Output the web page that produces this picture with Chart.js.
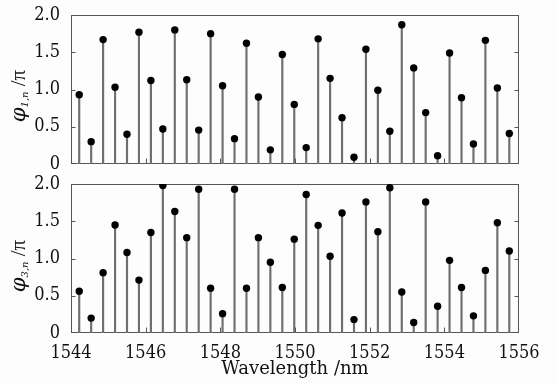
<!DOCTYPE html>
<html>
<head>
<meta charset="utf-8">
<script src="https://cdn.jsdelivr.net/npm/chart.js@4/dist/chart.umd.min.js"></script>
<style>
  html, body { margin: 0; padding: 0; background: #fdfdfd; }
  #wrap { position: relative; width: 557px; height: 383px; }
  #wrap canvas { position: absolute; left: 0; top: 0; }
</style>
</head>
<body>
<div id="wrap">
  <canvas id="phase-1" width="557" height="383"></canvas>
  <canvas id="phase-3" width="557" height="383"></canvas>
</div>
<script>
// Channel wavelengths (nm)
const wavelengths = [
  1544.22, 1544.54, 1544.86, 1545.18, 1545.50, 1545.82, 1546.14, 1546.46,
  1546.78, 1547.10, 1547.42, 1547.74, 1548.06, 1548.38, 1548.70, 1549.02,
  1549.34, 1549.66, 1549.98, 1550.30, 1550.62, 1550.94, 1551.26, 1551.58,
  1551.90, 1552.22, 1552.54, 1552.86, 1553.18, 1553.50, 1553.82, 1554.14,
  1554.46, 1554.78, 1555.10, 1555.42, 1555.74,
];
// phi_1,n / pi
const phi1 = [
  0.93, 0.30, 1.67, 1.03, 0.40, 1.77, 1.12, 0.47, 1.80, 1.13,
  0.455, 1.75, 1.05, 0.34, 1.62, 0.90, 0.19, 1.47, 0.80, 0.22,
  1.68, 1.15, 0.62, 0.09, 1.54, 0.99, 0.44, 1.87, 1.29, 0.69,
  0.11, 1.49, 0.89, 0.27, 1.66, 1.02, 0.41,
];
// phi_3,n / pi
const phi3 = [
  0.56, 0.20, 0.81, 1.45, 1.08, 0.71, 1.35, 1.98, 1.63, 1.28,
  1.93, 0.60, 0.26, 1.93, 0.60, 1.28, 0.95, 0.61, 1.26, 1.86,
  1.445, 1.03, 1.61, 0.18, 1.76, 1.36, 1.95, 0.55, 0.14, 1.76,
  0.36, 0.975, 0.61, 0.23, 0.84, 1.48, 1.10,
];
const xTicks = [1544, 1546, 1548, 1550, 1552, 1554, 1556];
const yTicks = [0, 0.5, 1.0, 1.5, 2.0];

Chart.defaults.font.family = '"DejaVu Serif Condensed", "DejaVu Serif"';
Chart.defaults.font.size = 18;
Chart.defaults.color = '#111';

// Box round the plot area plus short inward ticks
const framePlugin = {
  id: 'frame',
  beforeDatasetsDraw(c) {
    const { ctx, chartArea: a, scales } = c;
    const L = Math.round(a.left) + 0.5;
    const R = Math.round(a.right) - 0.5;
    const T = Math.round(a.top) + 0.5;
    const B = Math.round(a.bottom) - 0.5;
    ctx.save();
    ctx.strokeStyle = '#555';
    ctx.lineWidth = 1;
    ctx.strokeRect(L, T, R - L, B - T);
    ctx.beginPath();
    yTicks.slice(1, -1).forEach((v) => {
      const y = Math.round(scales.y.getPixelForValue(v)) + 0.5;
      ctx.moveTo(L, y); ctx.lineTo(L + 4, y);
      ctx.moveTo(R, y); ctx.lineTo(R - 4, y);
    });
    xTicks.slice(1, -1).forEach((v) => {
      const x = Math.round(scales.x.getPixelForValue(v)) + 0.5;
      ctx.moveTo(x, B); ctx.lineTo(x, B - 5);
    });
    ctx.stroke();
    ctx.restore();
  },
};

// Rotated y title with a subscript: phi_{k,n} /pi
const yTitlePlugin = {
  id: 'yTitle',
  afterDraw(c, args, opts) {
    const { ctx } = c;
    const main = 'italic 21px "DejaVu Serif"';
    const sub = 'italic 10px "DejaVu Serif"';
    const tail = '21px "Liberation Serif"';
    ctx.save();
    ctx.font = main; const w1 = ctx.measureText('\u03C6').width;
    ctx.font = sub; const w2 = ctx.measureText(opts.sub).width;
    ctx.font = tail; const w3 = ctx.measureText(' /\u03C0').width;
    ctx.translate(opts.x, opts.y);
    ctx.rotate(-Math.PI / 2);
    ctx.fillStyle = '#111';
    ctx.textBaseline = 'alphabetic';
    let u = -(w1 + w2 + w3) / 2;
    ctx.font = main; ctx.fillText('\u03C6', u, 0); u += w1;
    ctx.font = sub; ctx.fillText(opts.sub, u, 3); u += w2;
    ctx.font = tail; ctx.fillText(' /\u03C0', u, 0);
    ctx.restore();
  },
};

const makePanel = (id, values, cfg) => {
  const ctx = document.getElementById(id);
  const pts = wavelengths.map((w, i) => ({ x: w, y: values[i] }));
  return new Chart(ctx, {
    type: 'bar',
    data: {
      datasets: [
        // Dots on top of the stems
        {
          type: 'scatter',
          data: pts,
          order: 0,
          pointRadius: 3.7,
          pointHoverRadius: 3.7,
          pointBackgroundColor: '#000',
          pointBorderWidth: 0,
          showLine: false,
        },
        // Stems
        {
          type: 'bar',
          data: pts,
          order: 1,
          barThickness: 1.5,
          backgroundColor: '#6f6f6f',
          borderWidth: 0,
        },
      ],
    },
    options: {
      responsive: false,
      animation: false,
      layout: { padding: cfg.padding },
      scales: {
        x: {
          type: 'linear',
          min: 1544,
          max: 1556,
          offset: false,
          display: cfg.showX,
          grid: { display: false, offset: false },
          border: { display: false },
          afterBuildTicks: (s) => { s.ticks = xTicks.map((v) => ({ value: v })); },
          afterFit: (s) => { s.height = cfg.showX ? 50 : 0; },
          ticks: { padding: 2, maxRotation: 0, callback: (v) => `${v}` },
          title: {
            display: true,
            text: 'Wavelength /nm',
            font: { family: 'DejaVu Serif', size: 18 },
            padding: { top: 0, bottom: 3 },
          },
        },
        y: {
          min: 0,
          max: 2,
          grid: { display: false },
          border: { display: false },
          afterBuildTicks: (s) => { s.ticks = yTicks.map((v) => ({ value: v })); },
          afterFit: (s) => { s.width = 71; },
          ticks: {
            padding: 3,
            callback: (v) => (v === 0 ? '0' : v.toFixed(1)),
          },
        },
      },
      plugins: {
        legend: { display: false },
        tooltip: { enabled: false },
        yTitle: cfg.title,
      },
    },
    plugins: [framePlugin, yTitlePlugin],
  });
};

makePanel('phase-1', phi1, {
  padding: { left: 0, right: 38, top: 15, bottom: 219 },
  showX: false,
  title: { x: 25, y: 96, sub: '1,n' },
});
makePanel('phase-3', phi3, {
  padding: { left: 0, right: 38, top: 184, bottom: 0 },
  showX: true,
  title: { x: 25, y: 266, sub: '3,n' },
});
</script>
</body>
</html>
